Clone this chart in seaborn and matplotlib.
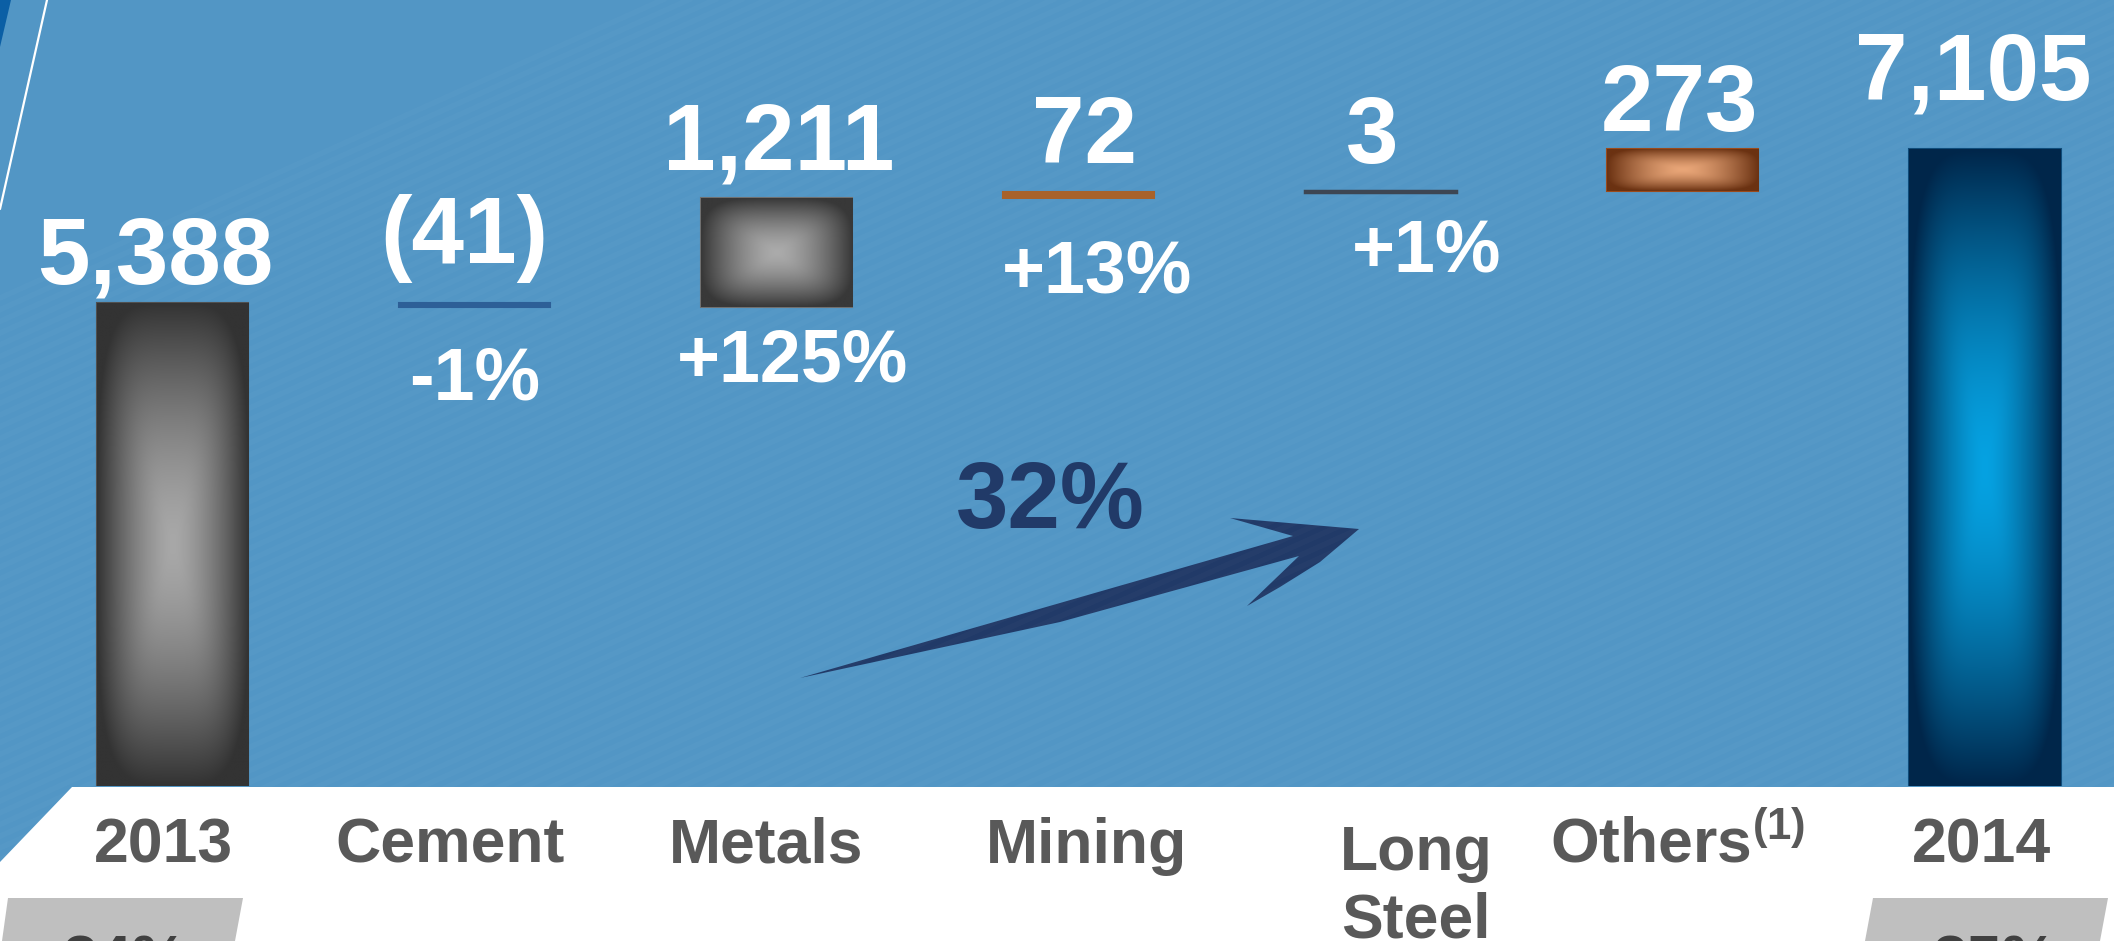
import numpy as np
import pandas as pd
import seaborn as sns
import matplotlib.pyplot as plt
import matplotlib.colors as mcolors
from matplotlib.patches import Polygon
from matplotlib.transforms import ScaledTranslation

sns.set_theme(style='white')
plt.rcParams['font.family'] = ['Liberation Sans', 'DejaVu Sans']
plt.rcParams['font.weight'] = 'bold'
plt.rcParams['mathtext.fontset'] = 'custom'
plt.rcParams['mathtext.rm'] = 'Liberation Sans:bold'
plt.rcParams['mathtext.it'] = 'Liberation Sans:bold'
plt.rcParams['mathtext.bf'] = 'Liberation Sans:bold'

# data
categories = ['2013', 'Cement', 'Metals', 'Mining', 'Long\nSteel', r'Others$^{(1)}$', '2014']
value_text = ['5,388', '(41)', '1,211', '72', '3', '273', '7,105']
change_text = ['', '-1%', '+125%', '+13%', '+1%', '', '']
bar_bottom = [0, 5347, 5347, 6558, 6630, 6633, 0]
bar_top = [5388, 5388, 6558, 6630, 6633, 7105, 7105]
growth_text = '32%'
share_text = ['34%', '35%']

# styling
solid = ['#333333', '#2d5f97', '#383838', '#a8622a', '#3d4653', '#6b3212', '#00264a']
edges = ['#505050', '#2d5f97', '#707070', '#a8622a', '#3d4653', '#9a4a1c', '#0f4c7a']
centre = ['#a8a8a8', None, '#ababab', None, None, '#e9a678', '#06a2e2']
# label layout (x offset in category units, baseline in data units)
value_dx = [-0.058, -0.035, 0.007, 0.02, -0.03, -0.01, -0.04]
value_y = [5611, 5834, 6872, 6950, 6950, 7307, 7653]
change_dx = [0, 0, 0.054, 0.06, 0.152, 0, 0]
change_y = [0, 4306, 4507, 5500, 5734, 0, 0]
tick_dx_px = [-9, -25, -11, 8, 35, -5, -4]
tick_dy_px = [0, 0, 0, 0, -75, 0, 0]

BLUE = '#5296c5'
NAVY = '#213a68'
GREY_TXT = '#595959'

fig = plt.figure(figsize=(21.14, 9.41), dpi=100)
fig.patch.set_facecolor('white')

# decoration layer in pixel coords
bg = fig.add_axes([0, 0, 1, 1], zorder=0)
bg.set_xlim(0, 2114)
bg.set_ylim(941, 0)
bg.axis('off')
blue_area = Polygon([(0, 0), (2114, 0), (2114, 787), (72, 787), (0, 862)], closed=True,
                    facecolor=BLUE, edgecolor='none')
bg.add_patch(blue_area)
# faint streak texture
for k in range(-60, 110):
    x0 = k * 26
    ln, = bg.plot([x0, x0 + 2600], [1000, 1000 - 2600 * 0.45], color='white',
                  alpha=0.02, lw=4)
    ln.set_clip_path(blue_area)
bg.add_patch(Polygon([(0, 0), (11, 0), (0, 47)], closed=True, facecolor='#0b5fa5', edgecolor='none'))
bg.plot([47, 0], [0, 209], color='white', lw=1.6)
bg.add_patch(Polygon([(8, 898), (243, 898), (235, 941), (2, 941)], closed=True,
                     facecolor='#bfbfbf', edgecolor='none'))
bg.add_patch(Polygon([(1873, 898), (2108, 898), (2100, 941), (1865, 941)], closed=True,
                     facecolor='#bfbfbf', edgecolor='none'))
bg.text(125, 933, share_text[0], ha='center', va='top', fontsize=45, color='#404040')
bg.text(1995, 933, share_text[1], ha='center', va='top', fontsize=45, color='#404040')

# growth arrow
arrow = [(800, 678), (1060, 603), (1293, 536), (1230, 518), (1359, 529),
         (1320, 562), (1280, 587), (1247, 606), (1299, 556), (1060, 622)]
bg.add_patch(Polygon(arrow, closed=True, facecolor=NAVY, edgecolor='none'))
bg.text(1050, 528, growth_text, ha='center', va='baseline', fontsize=68, color=NAVY)

# bar layer
ax = fig.add_axes([0, 155 / 941, 1, 786 / 941], zorder=1)
ax.patch.set_alpha(0)
df = pd.DataFrame({'category': categories,
                   'height': np.array(bar_top) - np.array(bar_bottom)})
sns.barplot(data=df, x='category', y='height', color='grey', width=0.5,
            saturation=1, ax=ax)

xlim = (-0.571, 6.427)
ylim = (0, 8768)


def fill_gradient(ax, patch, edge, mid, p=4.0, gamma=1.5):
    x0, y0 = patch.get_x(), patch.get_y()
    w, h = patch.get_width(), patch.get_height()
    U, V = np.meshgrid(np.linspace(-1, 1, 160), np.linspace(-1, 1, 320))
    t = np.clip((np.abs(U) ** p + np.abs(V) ** p) ** (1 / p), 0, 1) ** gamma
    c0 = np.array(mcolors.to_rgb(mid))
    c1 = np.array(mcolors.to_rgb(edge))
    img = c0 + (c1 - c0) * t[..., None]
    im = ax.imshow(img, extent=[x0, x0 + w, y0, y0 + h], origin='lower',
                   aspect='auto', interpolation='bilinear', zorder=2.5)
    im.set_clip_path(patch)


for i, patch in enumerate(ax.patches):
    patch.set_y(bar_bottom[i])
    patch.set_facecolor(solid[i])
    patch.set_edgecolor(edges[i])
    patch.set_linewidth(1.5 if i != 4 else 2.5)
    patch.set_zorder(2)
    if centre[i] is not None:
        fill_gradient(ax, patch, solid[i], centre[i])

for i in range(len(categories)):
    ax.text(i + value_dx[i], value_y[i], value_text[i], ha='center', va='baseline',
            fontsize=68, color='white')
    if change_text[i]:
        ax.text(i + change_dx[i], change_y[i], change_text[i], ha='center',
                va='baseline', fontsize=53, color='white')

ax.set_xlim(*xlim)
ax.set_ylim(*ylim)
ax.set_xlabel('')
ax.set_ylabel('')
ax.set_yticks([])
sns.despine(ax=ax, left=True, bottom=True)
ax.set_xticks(range(len(categories)))
ax.set_xticklabels(categories, fontsize=45, fontweight='bold', color=GREY_TXT)
ax.tick_params(axis='x', length=0, pad=55.4)
for i, lbl in enumerate(ax.get_xticklabels()):
    lbl.set_va('baseline')
    lbl.set_transform(lbl.get_transform() +
                      ScaledTranslation(tick_dx_px[i] / 100, tick_dy_px[i] / 100,
                                        fig.dpi_scale_trans))

fig.savefig('out.png', dpi=100)
